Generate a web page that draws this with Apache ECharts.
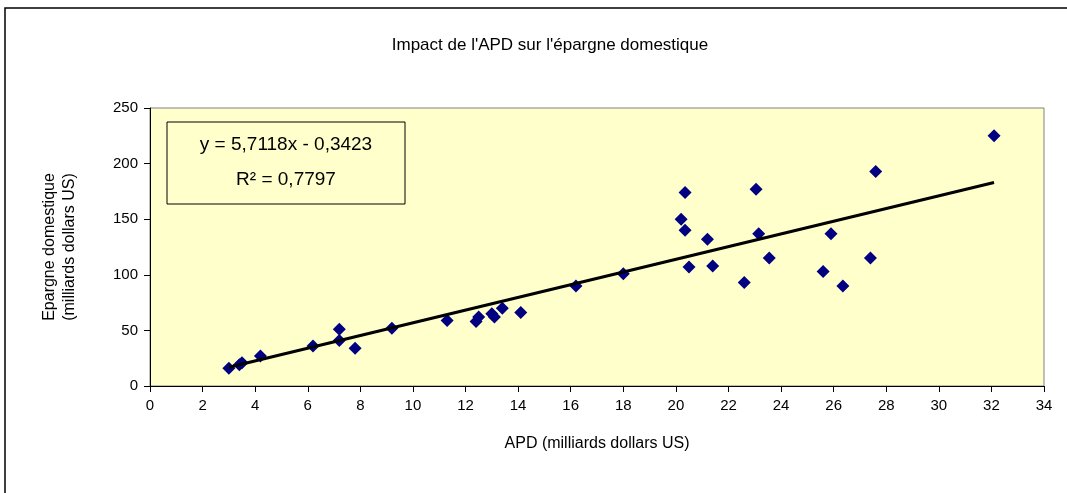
<!DOCTYPE html>
<html>
<head>
<meta charset="utf-8">
<script src="https://cdn.jsdelivr.net/npm/echarts@6/dist/echarts.min.js"></script>
<style>
  html, body { margin: 0; padding: 0; background: #fff; }
  #chart { width: 1067px; height: 493px; }
</style>
</head>
<body>
<div id="chart"></div>
<script>
// APD (milliards dollars US) vs épargne domestique
const apd = [3.0, 3.4, 3.5, 4.2, 6.2, 7.2, 7.2, 7.8, 9.2, 11.3, 12.4, 12.5, 13.0, 13.1, 13.4, 14.1,
    16.2, 18.0, 20.2, 20.35, 20.35, 20.5, 21.2, 21.4, 22.6, 23.05, 23.15, 23.55, 25.6, 25.9, 26.35,
    27.4, 27.6, 32.1];
const epargne = [16, 19, 21, 27, 36, 51, 41, 34, 52, 59, 58, 62, 65, 62, 70, 66,
    90, 101, 150, 174, 140, 107, 132, 108, 93, 177, 137, 115, 103, 137, 90,
    115, 193, 225];
const xTicks = { min: 0, max: 34, interval: 2 };
const yTicks = { min: 0, max: 250, interval: 50 };
const slope = 5.7118;
const intercept = -0.3423;
const r2 = '0,7797';

const points = apd.map((x, i) => [x, epargne[i]]);
const xMin = Math.min(...apd);
const xMax = Math.max(...apd);
const trend = [[xMin, slope * xMin + intercept], [xMax, slope * xMax + intercept]];

const fmt = (v) => v.toFixed(4).replace('.', ',');
const font = '"Liberation Sans", Arial, sans-serif';

const chart = echarts.init(document.getElementById('chart'));
chart.setOption({
    animation: false,
    textStyle: { fontFamily: font },
    graphic: [{
        type: 'rect',
        shape: { x: 5, y: 8, width: 1070, height: 500 },
        style: { fill: 'none', stroke: '#000', lineWidth: 1.5 },
        silent: true
    }, {
        // boîte de l'équation de tendance
        type: 'rect',
        shape: { x: 167, y: 122, width: 238, height: 82 },
        style: { fill: '#FFFFCC', stroke: '#000', lineWidth: 1 },
        z: 10
    }, {
        type: 'text',
        x: 286,
        y: 145,
        style: {
            text: 'y = ' + fmt(slope) + 'x - ' + fmt(-intercept),
            fill: '#000', font: '19px ' + font,
            align: 'center', verticalAlign: 'middle'
        },
        z: 11
    }, {
        type: 'text',
        x: 286,
        y: 180,
        style: {
            text: 'R² = ' + r2,
            fill: '#000', font: '19px ' + font,
            align: 'center', verticalAlign: 'middle'
        },
        z: 11
    }],
    title: {
        text: "Impact de l'APD sur l'épargne domestique",
        left: 545,
        top: 32,
        textAlign: 'center',
        textStyle: { fontSize: 17, fontWeight: 'normal', color: '#000', fontFamily: font }
    },
    grid: {
        left: 150,
        right: 23,
        top: 108,
        bottom: 107,
        show: true,
        backgroundColor: '#FFFFCC',
        borderColor: '#808080',
        borderWidth: 1
    },
    xAxis: {
        type: 'value',
        min: xTicks.min,
        max: xTicks.max,
        interval: xTicks.interval,
        name: 'APD (milliards dollars US)',
        nameLocation: 'middle',
        nameGap: 50,
        nameTextStyle: { fontSize: 16, color: '#000' },
        axisLine: { lineStyle: { color: '#000', width: 1 } },
        axisTick: { show: true, length: 6, lineStyle: { color: '#000' } },
        axisLabel: { fontSize: 15, color: '#000', margin: 12 },
        splitLine: { show: false }
    },
    yAxis: {
        type: 'value',
        min: yTicks.min,
        max: yTicks.max,
        interval: yTicks.interval,
        name: 'Epargne domestique\n(milliards dollars US)',
        nameLocation: 'middle',
        nameGap: 70,
        nameRotate: 90,
        nameTextStyle: { fontSize: 16, color: '#000', lineHeight: 20 },
        axisLine: { show: true, lineStyle: { color: '#000', width: 1 } },
        axisTick: { show: true, length: 6, lineStyle: { color: '#000' } },
        axisLabel: { fontSize: 15, color: '#000', margin: 12 },
        splitLine: { show: false }
    },
    series: [{
        type: 'scatter',
        data: points,
        symbol: 'diamond',
        symbolSize: 13,
        itemStyle: { color: '#000080', opacity: 1 },
        z: 3
    }, {
        type: 'line',
        data: trend,
        symbol: 'none',
        lineStyle: { color: '#000', width: 3 },
        z: 4
    }]
});
</script>
</body>
</html>
